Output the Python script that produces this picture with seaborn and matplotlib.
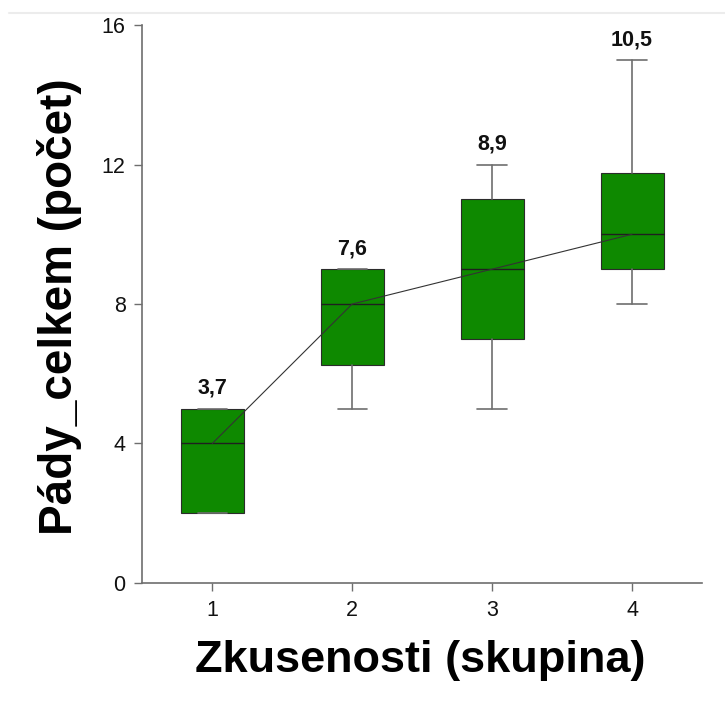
import matplotlib
matplotlib.use("Agg")
import matplotlib.pyplot as plt
import seaborn as sns
import pandas as pd

# ---- data ----
groups = [1, 2, 3, 4]
whisker_low = [2, 5, 5, 8]
q1 = [2, 6.25, 7, 9]
medians = [4, 8, 9, 10]
q3 = [5, 9, 11, 11.75]
whisker_high = [5, 9, 12, 15]
means = [3.7, 7.6, 8.9, 10.5]
mean_labels = ["3,7", "7,6", "8,9", "10,5"]
y_ticks = [0, 4, 8, 12, 16]

sns.set_theme(style="ticks")
plt.rcParams['font.family'] = ['Liberation Sans', 'DejaVu Sans']

fig = plt.figure(figsize=(7.25, 7.08), dpi=100)
ax = fig.add_axes([0.1963, 0.1766, 0.772, 0.788])

stats = []
for g, lo, a, m, b, hi in zip(groups, whisker_low, q1, medians, q3, whisker_high):
    stats.append(dict(label=str(g), whislo=lo, q1=a, med=m, q3=b, whishi=hi, fliers=[]))

gray = "#6e6e6e"
ax.bxp(stats, positions=groups, widths=0.45, patch_artist=True, showfliers=False,
       boxprops=dict(facecolor="#0e8900", edgecolor="#2b2b2b", linewidth=0.8),
       medianprops=dict(color="#1f1f1f", linewidth=1.0),
       whiskerprops=dict(color=gray, linewidth=1.2),
       capprops=dict(color=gray, linewidth=1.2),
       capwidths=0.21)

df = pd.DataFrame({"skupina": groups, "median": medians})
sns.lineplot(data=df, x="skupina", y="median", ax=ax, color="#333333", linewidth=0.8, zorder=5)

for g, hi, lab in zip(groups, whisker_high, mean_labels):
    ax.text(g, hi + 0.28, lab, ha="center", va="bottom", fontsize=15.5, fontweight="bold", color="#111111")

ax.set_xlim(0.5, 4.5)
ax.set_ylim(0, 16)
ax.set_xticks(groups)
ax.set_xticklabels([str(g) for g in groups])
ax.set_yticks(y_ticks)
ax.tick_params(axis="both", labelsize=15.5, color=gray, length=6, width=1, labelcolor="#111111", pad=6)
for side in ["top", "right"]:
    ax.spines[side].set_visible(False)
for side in ["left", "bottom"]:
    ax.spines[side].set_color(gray)
    ax.spines[side].set_linewidth(1.2)

ax.set_xlabel("Zkusenosti (skupina)", fontsize=32.5, fontweight="bold", color="black")
ax.set_ylabel("Pády_celkem (počet)", fontsize=33, fontweight="bold", color="black")
ax.xaxis.set_label_coords(0.497, -0.102)
ax.yaxis.set_label_coords(-0.108, 0.496)

fig.add_artist(plt.Line2D([0.012, 1.0], [0.982, 0.982], color="#ececec", linewidth=1.5, transform=fig.transFigure))

fig.savefig("out.png", dpi=100)
